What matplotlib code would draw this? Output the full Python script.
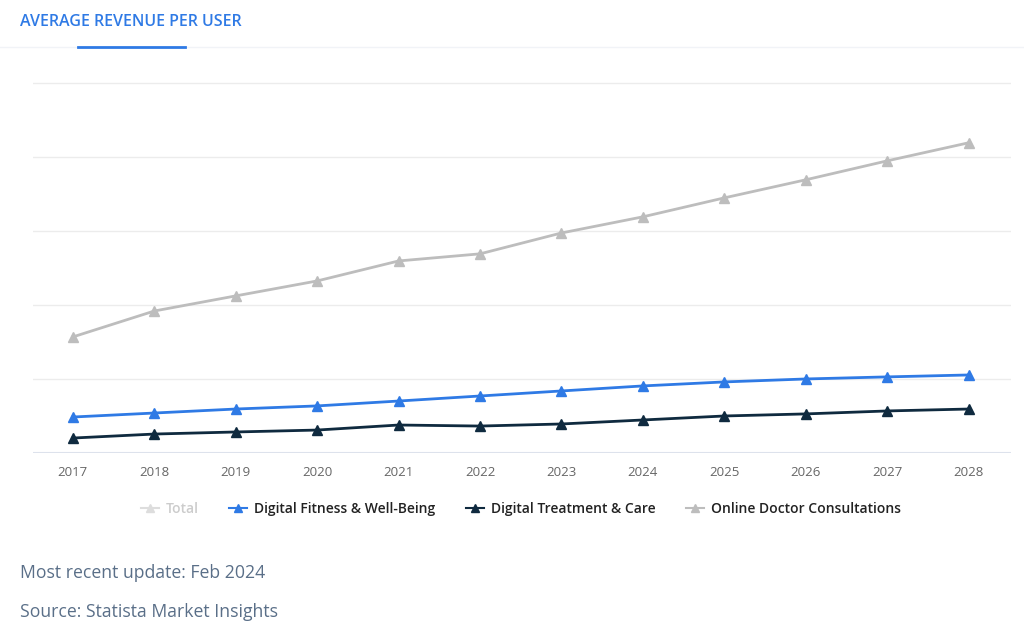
import matplotlib.pyplot as plt
from matplotlib.lines import Line2D

plt.rcParams['font.family'] = ['Open Sans', 'DejaVu Sans']

# 数据（纵轴无刻度，按像素估读，单位任意）
years = [2017, 2018, 2019, 2020, 2021, 2022, 2023, 2024, 2025, 2026, 2027, 2028]
online_doctor = [78.4, 95.9, 106.1, 116.2, 129.7, 134.5, 148.6, 159.5, 172.3, 184.5, 197.3, 209.5]
digital_fitness = [24.3, 27.0, 29.7, 31.8, 35.1, 38.5, 41.9, 45.3, 48.0, 50.0, 51.4, 52.7]
digital_treatment = [10.1, 12.8, 14.2, 15.5, 18.9, 18.2, 19.6, 22.3, 25.0, 26.4, 28.4, 29.7]
legend_labels = ['Total', 'Digital Fitness & Well-Being', 'Digital Treatment & Care',
                 'Online Doctor Consultations']

GREY = '#bdbdbd'
BLUE = '#2f7ae5'
NAVY = '#0f2a3f'

fig = plt.figure(figsize=(10.24, 6.39), dpi=100)
fig.patch.set_facecolor('white')

# 顶部标签页
fig.text(20 / 1024, 1 - 22 / 639, 'AVERAGE REVENUE PER USER', color='#2f7ae5',
         fontsize=11.5, fontweight='semibold', va='center', ha='left')
fig.add_artist(Line2D([0, 1], [1 - 47 / 639] * 2, color='#f1f3f7', lw=1))
fig.add_artist(Line2D([78 / 1024, 185 / 1024], [1 - 46.5 / 639] * 2, color='#2f7ae5', lw=2))

ax = fig.add_axes([33 / 1024, 1 - 453 / 639, (1011 - 33) / 1024, (453 - 68) / 639])
ax.plot(years, online_doctor, color=GREY, lw=2, marker='^', markersize=7)
ax.plot(years, digital_fitness, color=BLUE, lw=2, marker='^', markersize=7)
ax.plot(years, digital_treatment, color=NAVY, lw=2, marker='^', markersize=7)

ax.set_xlim(2016.51, 2028.52)
ax.set_ylim(0, 260)
ax.set_yticks([50, 100, 150, 200, 250])
ax.yaxis.grid(True, color='#ececec', lw=1)
ax.set_axisbelow(True)
ax.axhline(0, color='#dde2ec', lw=1.5, zorder=1)
for s in ax.spines.values():
    s.set_visible(False)
ax.tick_params(axis='y', left=False, labelleft=False)
ax.tick_params(axis='x', length=0, pad=9, labelsize=9.5, labelcolor='#666666')
ax.set_xticks(years)
ax.set_xticklabels([str(y) for y in years])

# 图例
handles = [
    Line2D([], [], color='#dddddd', lw=1.5, marker='^', markersize=6),
    Line2D([], [], color=BLUE, lw=1.5, marker='^', markersize=6),
    Line2D([], [], color=NAVY, lw=1.5, marker='^', markersize=6),
    Line2D([], [], color=GREY, lw=1.5, marker='^', markersize=6),
]
leg = fig.legend(handles, legend_labels, loc='center', bbox_to_anchor=(521 / 1024, 1 - 509 / 639),
                 ncol=4, frameon=False, fontsize=10, handlelength=1.3, handletextpad=0.5,
                 columnspacing=2.2)
for i, t in enumerate(leg.get_texts()):
    t.set_fontweight('semibold')
    t.set_color('#cccccc' if i == 0 else '#222222')

fig.text(20 / 1024, 1 - 573 / 639, 'Most recent update: Feb 2024', color='#5a6f88',
         fontsize=12.7, va='center', ha='left')
fig.text(20 / 1024, 1 - 612 / 639, 'Source: Statista Market Insights', color='#5a6f88',
         fontsize=12.7, va='center', ha='left')

fig.savefig('out.png', dpi=100)
